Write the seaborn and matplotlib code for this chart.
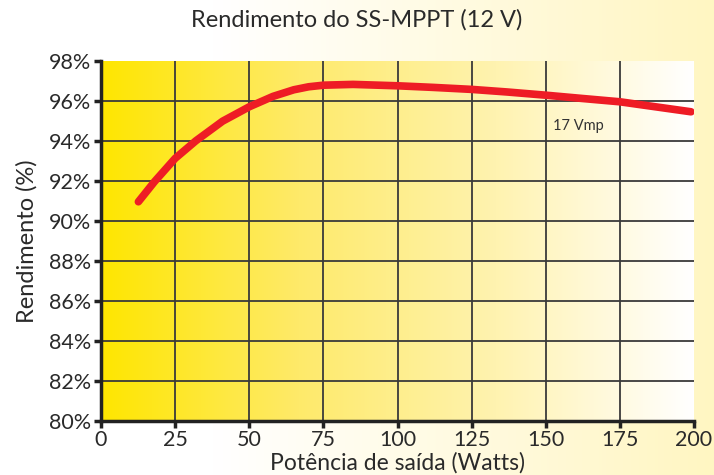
import numpy as np
import pandas as pd
import matplotlib
matplotlib.use("Agg")
import matplotlib.pyplot as plt
from matplotlib.colors import LinearSegmentedColormap
import seaborn as sns

# data
power_w = [12.6, 18, 25, 32, 41, 50, 58, 65, 70, 75, 85, 100, 112, 125, 137, 150, 162, 175, 187, 199]
efficiency = [90.95, 91.95, 93.12, 94.0, 94.98, 95.7, 96.22, 96.55, 96.7, 96.78, 96.82, 96.75, 96.67, 96.57, 96.44, 96.28, 96.12, 95.95, 95.7, 95.45]
x_ticks = [0, 25, 50, 75, 100, 125, 150, 175, 200]
y_ticks = [80, 82, 84, 86, 88, 90, 92, 94, 96, 98]

df = pd.DataFrame({"power": power_w, "eff": efficiency})

sns.set_style("white")
plt.rcParams['font.family'] = ['Lato', 'DejaVu Sans']

fig = plt.figure(figsize=(7.14, 4.75), dpi=100)

# figure background: white on the left fading to pale yellow on the right
bg_ax = fig.add_axes([0, 0, 1, 1], zorder=-10)
bg_cmap = LinearSegmentedColormap.from_list("bg", [(0, "#FFFFFF"), (0.3, "#FFFFFF"), (1, "#FFF6C2")])
bg_ax.imshow(np.linspace(0, 1, 256).reshape(1, -1), cmap=bg_cmap, aspect="auto", extent=[0, 1, 0, 1])
bg_ax.axis("off")

ax = fig.add_axes([0.1415, 0.1143, 0.8305, 0.7577])
ax.patch.set_alpha(0)

# plot area gradient: bright yellow to white
area_cmap = LinearSegmentedColormap.from_list("area", ["#FFE600", "#FEEA6A", "#FFF3B0", "#FFFFFF"])
ax.imshow(np.linspace(0, 1, 256).reshape(1, -1), cmap=area_cmap, aspect="auto",
          extent=[0, 200, 80, 98], zorder=0)

# grid
for xv in x_ticks[1:-1]:
    ax.axvline(xv, color="#3a3a3a", lw=1.3, zorder=1)
for yv in y_ticks[1:-1]:
    ax.axhline(yv, color="#3a3a3a", lw=1.3, zorder=1)

sns.lineplot(data=df, x="power", y="eff", ax=ax, color="#EE1C25", lw=5.5,
             solid_capstyle="round", solid_joinstyle="round", zorder=3)

ax.text(152.5, 94.72, "17 Vmp", fontsize=10.5, color="#333333", va="center", ha="left")

ax.set_xlim(0, 200)
ax.set_ylim(80, 98)
ax.set_xticks(x_ticks)
ax.set_yticks(y_ticks)
ax.set_yticklabels([f"{v}%" for v in y_ticks])
ax.tick_params(axis="both", labelsize=15.5, length=5, width=2.5, color="#222222", labelcolor="#2a2a2a", pad=2)
ax.tick_params(axis="both", direction="out", left=True, bottom=True)

for side in ["top", "right"]:
    ax.spines[side].set_visible(False)
for side in ["left", "bottom"]:
    ax.spines[side].set_linewidth(2.5)
    ax.spines[side].set_color("#222222")

ax.set_xlabel("Potência de saída (Watts)", fontsize=16.5, color="#2a2a2a", labelpad=1)
ax.set_ylabel("Rendimento (%)", fontsize=17, color="#2a2a2a", labelpad=8)
fig.suptitle("Rendimento do SS-MPPT (12 V)", fontsize=17, color="#2a2a2a", x=0.5, y=0.958, va="center")

plt.savefig("out.png", dpi=100)
